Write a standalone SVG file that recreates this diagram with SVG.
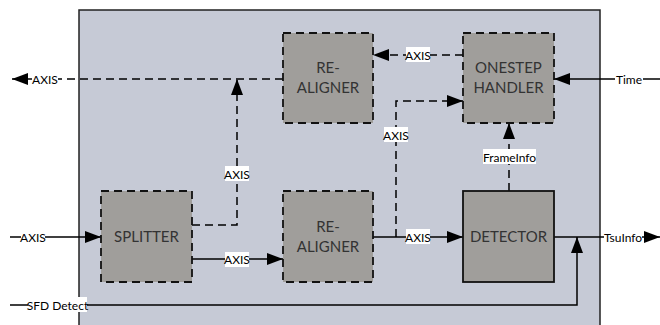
<svg xmlns="http://www.w3.org/2000/svg" width="660" height="325" viewBox="0 0 660 325">
<style>
.bg{fill:#c6cad6;stroke:#222;stroke-width:1.5}
.box{fill:#a09e9b;stroke:#111;stroke-width:1.8;stroke-dasharray:8 5}
.solidbox{fill:#a09e9b;stroke:#111;stroke-width:1.8}
.bt{font-family:Lato,"Liberation Sans",sans-serif;font-size:15px;fill:#333;text-anchor:middle}
.ln{fill:none;stroke:#000;stroke-width:1.5}
.dl{fill:none;stroke:#000;stroke-width:1.5;stroke-dasharray:8 5}
.lb{font-family:Lato,"Liberation Sans",sans-serif;font-size:12px;fill:#000;text-anchor:middle;dominant-baseline:central}
.lbg{fill:#fff}
</style>
<defs>
<marker id="ah" viewBox="0 0 16 12" refX="16" refY="6" markerWidth="16" markerHeight="12" markerUnits="userSpaceOnUse" orient="auto">
<path d="M0,0 L16,6 L0,12 z" fill="#000"/>
</marker>
</defs>
<rect class="bg" x="79" y="10" width="521" height="330"/>
<g id="connectors">
<path class="ln" d="M10,237 H101" marker-end="url(#ah)"/>
<path class="ln" d="M192,259 H283" marker-end="url(#ah)"/>
<path class="ln" d="M373,237 H463" marker-end="url(#ah)"/>
<path class="dl" d="M396,237 V101 H463" marker-end="url(#ah)"/>
<path class="dl" d="M192,225 H237 V79" marker-end="url(#ah)"/>
<path class="dl" d="M283,79 H30"/>
<path class="ln" d="M30,79 H12" marker-end="url(#ah)"/>
<path class="dl" d="M463,55 H373" marker-end="url(#ah)"/>
<path class="ln" d="M660,79 H554" marker-end="url(#ah)"/>
<path class="dl" d="M509,191 V123" marker-end="url(#ah)"/>
<path class="ln" d="M554,237 H660" marker-end="url(#ah)"/>
<path class="ln" d="M10,305 H577 V237" marker-end="url(#ah)"/>
<rect class="lbg" x="32" y="72" width="26" height="15"/>
<text class="lb" x="45" y="79">AXIS</text>
<rect class="lbg" x="21" y="229" width="24" height="15"/>
<text class="lb" x="33" y="237">AXIS</text>
<rect class="lbg" x="225" y="252" width="24" height="15"/>
<text class="lb" x="237" y="259">AXIS</text>
<rect class="lbg" x="225" y="166" width="24" height="15"/>
<text class="lb" x="237" y="174">AXIS</text>
<rect class="lbg" x="406" y="229" width="24" height="15"/>
<text class="lb" x="418" y="237">AXIS</text>
<rect class="lbg" x="384" y="127" width="24" height="15"/>
<text class="lb" x="396" y="135">AXIS</text>
<rect class="lbg" x="406" y="47" width="24" height="15"/>
<text class="lb" x="418" y="55">AXIS</text>
<rect class="lbg" x="483" y="149" width="53" height="15"/>
<text class="lb" x="509.5" y="157">FrameInfo</text>
<rect class="lbg" x="615" y="71" width="28" height="15"/>
<text class="lb" x="629" y="79">Time</text>
<rect class="lbg" x="604" y="229" width="38" height="15"/>
<text class="lb" x="623" y="237">TsuInfo</text>
<rect class="lbg" x="28" y="297" width="59" height="15"/>
<text class="lb" x="57.5" y="305">SFD Detect</text>
</g>
<g id="realigner-top">
<rect class="box" x="283" y="33" width="90" height="90"/>
<text class="bt" x="328" y="73">RE-</text>
<text class="bt" x="328" y="93">ALIGNER</text>
</g>
<g id="onestep-handler">
<rect class="box" x="463" y="33" width="91" height="90"/>
<text class="bt" x="508.5" y="73">ONESTEP</text>
<text class="bt" x="508.5" y="93">HANDLER</text>
</g>
<g id="splitter">
<rect class="box" x="101" y="191" width="91" height="91"/>
<text class="bt" x="146.5" y="242">SPLITTER</text>
</g>
<g id="realigner-bottom">
<rect class="box" x="283" y="191" width="90" height="91"/>
<text class="bt" x="328" y="232">RE-</text>
<text class="bt" x="328" y="252">ALIGNER</text>
</g>
<g id="detector">
<rect class="solidbox" x="463" y="191" width="91" height="91"/>
<text class="bt" x="508.5" y="242">DETECTOR</text>
</g>
</svg>
